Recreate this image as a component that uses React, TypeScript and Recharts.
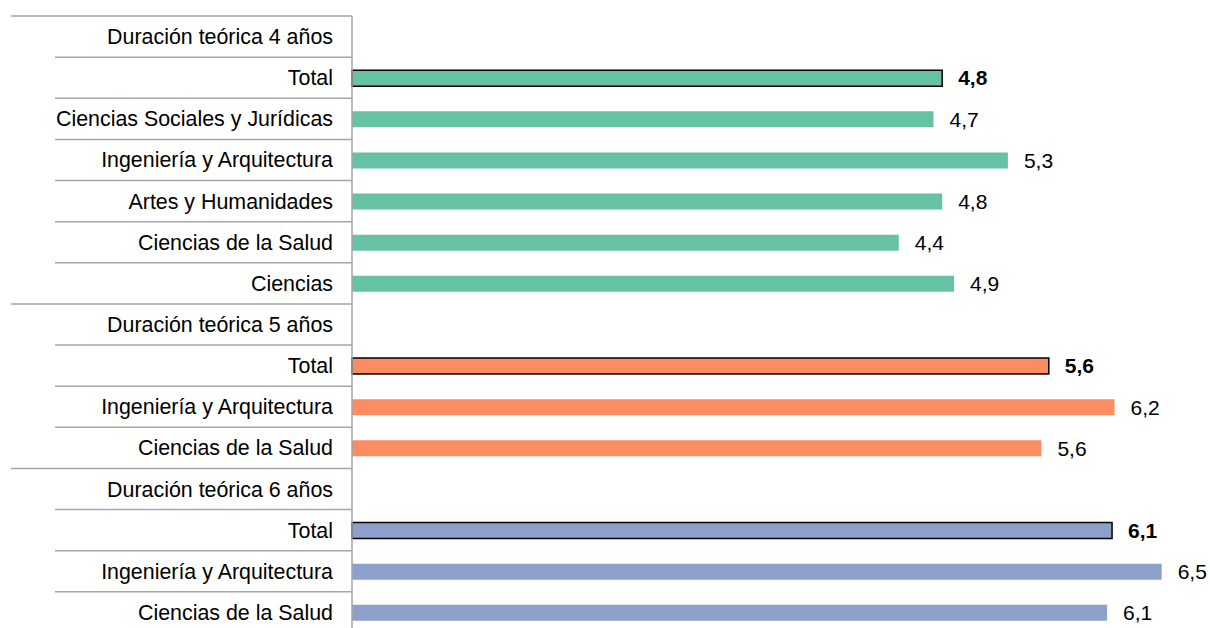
import { BarChart, Bar, XAxis, YAxis, Cell, LabelList } from "recharts";

const categories = [
  "Duración teórica 4 años",
  "Total",
  "Ciencias Sociales y Jurídicas",
  "Ingeniería y Arquitectura",
  "Artes y Humanidades",
  "Ciencias de la Salud",
  "Ciencias",
  "Duración teórica 5 años",
  "Total",
  "Ingeniería y Arquitectura",
  "Ciencias de la Salud",
  "Duración teórica 6 años",
  "Total",
  "Ingeniería y Arquitectura",
  "Ciencias de la Salud",
];

// null = group header row (no bar)
const values = [null, 4.76, 4.69, 5.29, 4.76, 4.41, 4.856, null, 5.62, 6.15, 5.56, null, 6.13, 6.53, 6.09];
const groups = [0, 0, 0, 0, 0, 0, 0, 1, 1, 1, 1, 2, 2, 2, 2];
const isHeader = categories.map((c) => c.startsWith("Duración"));
const isTotal = categories.map((c) => c === "Total");

const COLORS = ["#66c2a5", "#fc8d62", "#8da0cb"];
const FONT = "'Liberation Sans', Arial, sans-serif";
const GRID = "#a6a6a6";

const data = categories.map((c, i) => ({
  key: "r" + i,
  value: values[i],
  totalValue: isTotal[i] ? values[i] : null,
  otherValue: isTotal[i] ? null : values[i],
}));

const fmt = (v: number) => v.toFixed(1).replace(".", ",");

function CategoryTick(props: any) {
  const { x, y, index, payload } = props;
  const half = payload?.offset ?? 20.6;
  const top = y - half;
  const lineStart = isHeader[index] ? 11 : 55;
  return (
    <g>
      <line x1={lineStart} x2={x} y1={top} y2={top} stroke={GRID} strokeWidth={1.5} />
      <text x={x - 19} y={y} dy="0.35em" textAnchor="end" fontSize={21.4} fontFamily={FONT} fill="#000">
        {categories[index]}
      </text>
    </g>
  );
}

function makeLabel(bold: boolean) {
  return function ValueLabel(props: any) {
    const { x, y, width, height, value } = props;
    if (value == null) return null;
    return (
      <text
        x={x + width + 16}
        y={y + height / 2}
        dy="0.35em"
        fontSize={21}
        fontFamily={FONT}
        fontWeight={bold ? "bold" : "normal"}
        fill="#000"
      >
        {fmt(Number(value))}
      </text>
    );
  };
}

const BoldLabel = makeLabel(true);
const PlainLabel = makeLabel(false);

export default function App() {
  return (
    <div style={{ position: "absolute", left: 0, top: 0, width: 1210, height: 628, overflow: "hidden", background: "#fff" }}>
      <BarChart
        width={1210}
        height={640}
        data={data}
        layout="vertical"
        margin={{ top: 16, right: 0, bottom: 7, left: 0 }}
        barCategoryGap={0}
      >
        <XAxis type="number" domain={[0, 6.92]} hide />
        <YAxis
          type="category"
          dataKey="key"
          width={352}
          tickLine={false}
          tickSize={0}
          tickMargin={0}
          axisLine={{ stroke: GRID, strokeWidth: 1.5 }}
          tick={<CategoryTick />}
          interval={0}
        />
        <Bar dataKey="value" barSize={16} isAnimationActive={false}>
          {data.map((_, i) => (
            <Cell
              key={i}
              fill={COLORS[groups[i]]}
              stroke={isTotal[i] ? "#000" : "none"}
              strokeWidth={isTotal[i] ? 1.5 : 0}
            />
          ))}
          <LabelList dataKey="totalValue" content={<BoldLabel />} />
          <LabelList dataKey="otherValue" content={<PlainLabel />} />
        </Bar>
      </BarChart>
    </div>
  );
}
